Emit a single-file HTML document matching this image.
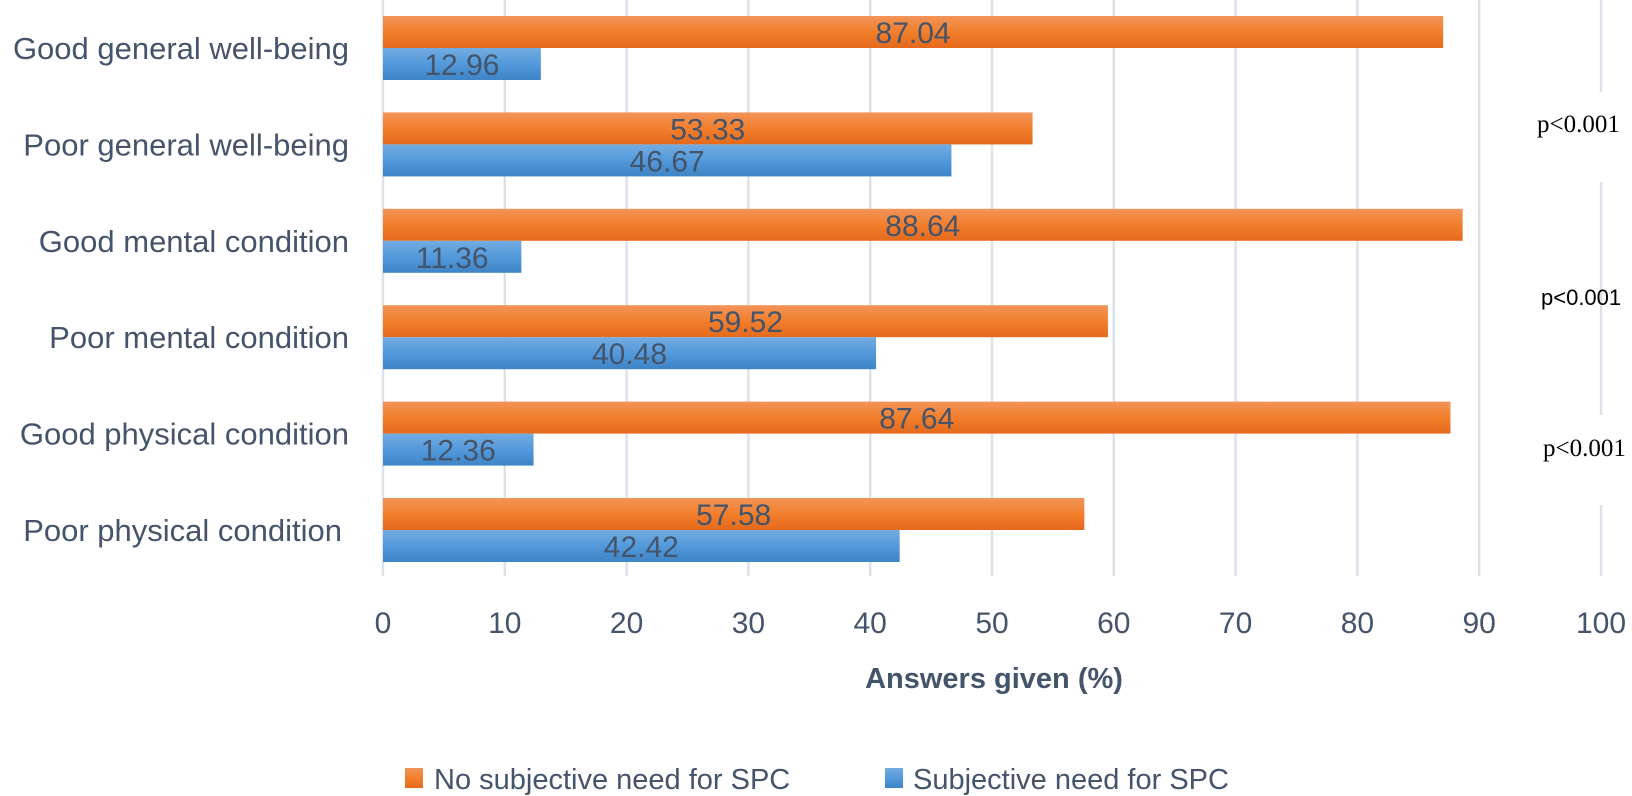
<!DOCTYPE html>
<html><head><meta charset="utf-8"><style>
html,body{margin:0;padding:0;background:#fff;}
svg{display:block;}
</style></head><body>
<svg id="chart" width="1632" height="796" xmlns="http://www.w3.org/2000/svg">
<defs>
<linearGradient id="go" x1="0" y1="0" x2="0" y2="1"><stop offset="0" stop-color="#f29459"/><stop offset="0.5" stop-color="#f27f2c"/><stop offset="1" stop-color="#e5691c"/></linearGradient>
<linearGradient id="gb" x1="0" y1="0" x2="0" y2="1"><stop offset="0" stop-color="#74ace0"/><stop offset="0.5" stop-color="#5399dc"/><stop offset="1" stop-color="#3d85c6"/></linearGradient>
</defs>
<g id="grid"></g><g id="bars"></g><g id="labels"></g>
<text x="994" y="688" text-anchor="middle" font-family="Liberation Sans, sans-serif" font-weight="bold" font-size="29" fill="#44546a">Answers given (%)</text>
<rect x="405" y="768" width="18" height="20" fill="url(#go)"/>
<text x="434" y="789" font-family="Liberation Sans, sans-serif" font-size="29" fill="#44546a">No subjective need for SPC</text>
<rect x="885" y="768" width="18" height="20" fill="url(#gb)"/>
<text x="913" y="789" font-family="Liberation Sans, sans-serif" font-size="29" fill="#44546a">Subjective need for SPC</text>
<text x="1537" y="132" font-family="Liberation Serif, serif" font-size="25" fill="#000">p&lt;0.001</text>
<text x="1541" y="305" font-family="Liberation Sans, sans-serif" font-size="22" fill="#000">p&lt;0.001</text>
<text x="1543" y="456" font-family="Liberation Serif, serif" font-size="25" fill="#000">p&lt;0.001</text>
</svg>
<script>
const categories = ["Good general well-being","Poor general well-being","Good mental condition","Poor mental condition","Good physical condition","Poor physical condition"];
const noNeedValues = [87.04,53.33,88.64,59.52,87.64,57.58];
const needValues = [12.96,46.67,11.36,40.48,12.36,42.42];
const xTicks = [0,10,20,30,40,50,60,70,80,90,100];

const NS="http://www.w3.org/2000/svg";
const x0=383, x1=1601, top0=16, groupStep=96.4, barH=32;
function xs(v){return x0+(v/100)*(x1-x0);}
function mk(tag,attrs,parent,text){const e=document.createElementNS(NS,tag);for(const k in attrs)e.setAttribute(k,attrs[k]);if(text!==undefined)e.textContent=text;parent.appendChild(e);return e;}
const grid=document.getElementById('grid'),bars=document.getElementById('bars'),labels=document.getElementById('labels');
const font="Liberation Sans, sans-serif";
xTicks.forEach(t=>{
  const x=xs(t);
  if(t===100){
    [[0,92],[182,415],[505,576]].forEach(s=>{
      const l=mk('line',{x1:x,x2:x,y1:s[0],y2:s[1],stroke:'#dde2ea','stroke-width':2.5},grid);
      
      
    });
  } else {
    const l=mk('line',{x1:x,x2:x,y1:0,y2:576,stroke:'#dde2ea','stroke-width':2.5},grid);
    
    
  }
  const tl=mk('text',{x:x,y:633,'text-anchor':'middle','font-family':font,'font-size':30,fill:'#44546a'},labels,String(t));
  
  
});
categories.forEach((c,i)=>{
  const y=top0+i*groupStep;
  const ro=mk('rect',{x:xs(0),y:y,width:xs(noNeedValues[i])-xs(0),height:barH,fill:'url(#go)'},bars);
  
  
  const rb=mk('rect',{x:xs(0),y:y+barH,width:xs(needValues[i])-xs(0),height:barH,fill:'url(#gb)'},bars);
  
  
  const lo=mk('text',{x:(xs(0)+xs(noNeedValues[i]))/2,y:y+barH/2+11,'text-anchor':'middle','font-family':font,'font-size':30,fill:'#44546a'},labels,noNeedValues[i].toFixed(2));
  
  
  const lb=mk('text',{x:(xs(0)+xs(needValues[i]))/2,y:y+barH*1.5+11,'text-anchor':'middle','font-family':font,'font-size':30,fill:'#44546a'},labels,needValues[i].toFixed(2));
  
  
  const cl=mk('text',{x:i===5?342:349,y:y+barH+11,'text-anchor':'end','font-family':font,'font-size':31,fill:'#44546a'},labels,c);
  
  
});
</script>
</body></html>
